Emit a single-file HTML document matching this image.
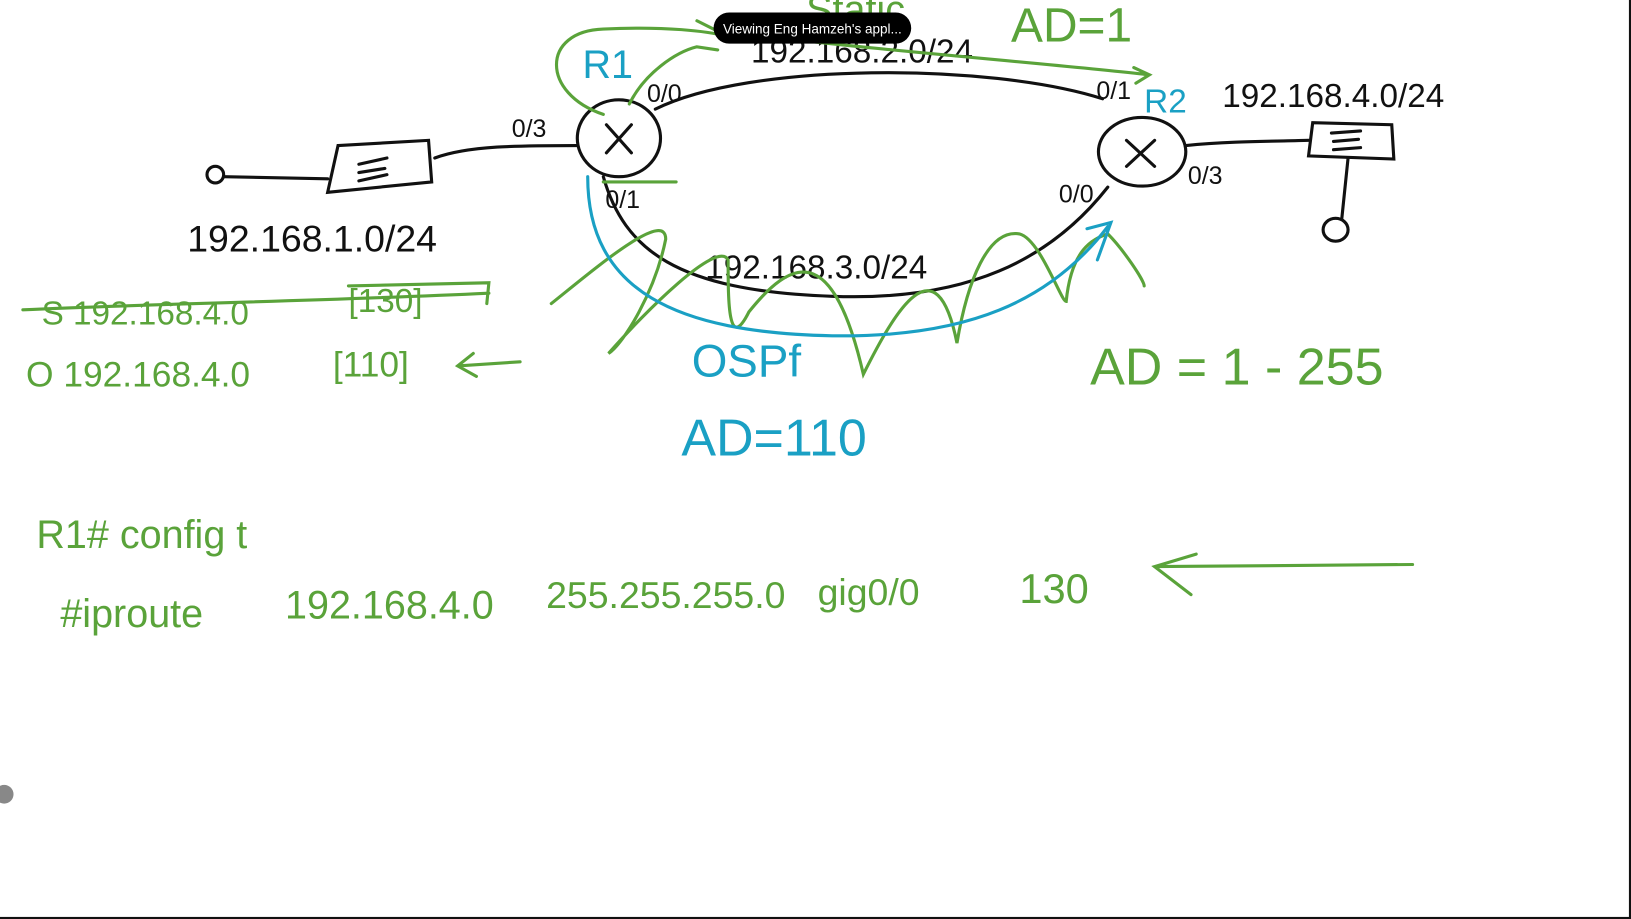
<!DOCTYPE html>
<html><head><meta charset="utf-8"><style>
html,body{margin:0;padding:0;background:#111;}
svg{display:block}
text{font-family:"Liberation Sans",sans-serif;}
</style></head><body>
<svg width="1631" height="919" viewBox="0 0 1568 884" preserveAspectRatio="none">
<rect x="0" y="0" width="1566" height="882" fill="#fff"/>
<g fill="none" stroke="#111" stroke-width="3" stroke-linecap="round">
<circle cx="207" cy="168" r="8"/>
<path d="M215 170 L315 172"/>
<path d="M325 140 L412 135 L415 175 L315 185 Z"/>
<path d="M345 158 L372 152 M345 166 L370 162 M345 174 L372 168"/>
<path d="M418 152 C450 140 500 140 555 140"/>
<ellipse cx="595" cy="133" rx="40" ry="37"/>
<path d="M583 120 L607 147 M607 120 L583 147"/>
<path d="M630 105 C720 60 950 60 1060 95"/>
<path d="M580 170 C600 240 650 280 800 285 C930 290 1010 250 1065 180"/>
<ellipse cx="1098" cy="146" rx="42" ry="33"/>
<path d="M1083 135 L1110 160 M1110 135 L1083 160"/>
<path d="M1140 140 C1180 136 1220 136 1258 135"/>
<path d="M1262 118 L1338 120 L1340 153 L1258 150 Z"/>
<path d="M1280 128 L1308 126 M1282 136 L1306 134 M1282 144 L1308 142"/>
<path d="M1296 152 L1290 210"/>
<ellipse cx="1284" cy="221" rx="12" ry="11"/>
</g>
<g font-size="30" fill="#111">
<text x="180" y="242" font-size="36">192.168.1.0/24</text>
<text x="492" y="132" font-size="24">0/3</text>
<text x="622" y="98" font-size="24">0/0</text>
<text x="582" y="200" font-size="24">0/1</text>
<text x="1054" y="95" font-size="24">0/1</text>
<text x="1018" y="195" font-size="24">0/0</text>
<text x="1142" y="177" font-size="24">0/3</text>
<text x="722" y="60" font-size="32">192.168.2.0/24</text>
<text x="678" y="268" font-size="32">192.168.3.0/24</text>
<text x="1175" y="103" font-size="32">192.168.4.0/24</text>
</g>
<g fill="none" stroke="#5aa33a" stroke-width="3" stroke-linecap="round">
<path d="M605 100 C620 70 650 50 670 45 L690 48 M670 20 L690 30"/>
<path d="M580 110 C520 90 520 30 580 28 C640 25 680 30 700 35"/>
<path d="M700 30 C800 45 1000 60 1105 72 M1090 65 L1105 72 L1092 80"/>
<path d="M530 292 C570 260 640 200 640 230 C630 280 600 330 585 340 C620 300 690 230 700 250 C700 290 700 340 720 300 C760 250 800 230 830 360 C860 300 900 230 920 330 C930 270 950 220 980 225 C1000 230 1020 290 1025 290 C1030 240 1050 230 1065 225 C1080 240 1100 270 1100 275"/>
<path d="M580 175 L650 175"/>
<path d="M22 298 C150 292 300 290 470 282 M335 275 L470 272 L468 292"/>
<path d="M440 352 L500 348 M455 340 L440 352 L458 362"/>
<path d="M1110 545 L1358 543 M1150 533 L1110 545 L1145 572"/>
</g>
<g fill="none" stroke="#1aa0c4" stroke-width="3" stroke-linecap="round">
<path d="M565 170 C565 280 650 320 800 323 C930 325 1010 290 1065 218 M1045 220 L1068 214 L1055 250"/>
</g>
<g fill="#5aa33a">
<text x="775" y="22" font-size="38">Static</text>
<text x="972" y="40" font-size="46">AD=1</text>
<text x="40" y="312" font-size="32">S 192.168.4.0</text>
<text x="335" y="300" font-size="32">[130]</text>
<text x="25" y="372" font-size="34">O  192.168.4.0</text>
<text x="320" y="362" font-size="34">[110]</text>
<text x="1048" y="370" font-size="50">AD = 1 - 255</text>
<text x="35" y="527" font-size="38">R1# config t</text>
<text x="58" y="603" font-size="38">#iproute</text>
<text x="274" y="595" font-size="38">192.168.4.0</text>
<text x="525" y="585" font-size="36">255.255.255.0</text>
<text x="786" y="582" font-size="36">gig0/0</text>
<text x="980" y="580" font-size="40">130</text>
</g>
<g fill="#1aa0c4">
<text x="560" y="75" font-size="38">R1</text>
<text x="1100" y="108" font-size="32">R2</text>
<text x="665" y="362" font-size="44">OSPf</text>
<text x="655" y="438" font-size="50">AD=110</text>
</g>
<g>
<rect x="686" y="12" width="190" height="30" rx="15" fill="#000"/>
<text x="781" y="32" font-size="13" fill="#fff" text-anchor="middle">Viewing Eng Hamzeh's appl...</text>
</g>
<circle cx="4" cy="764" r="9" fill="#888"/>
</svg>
</body></html>
